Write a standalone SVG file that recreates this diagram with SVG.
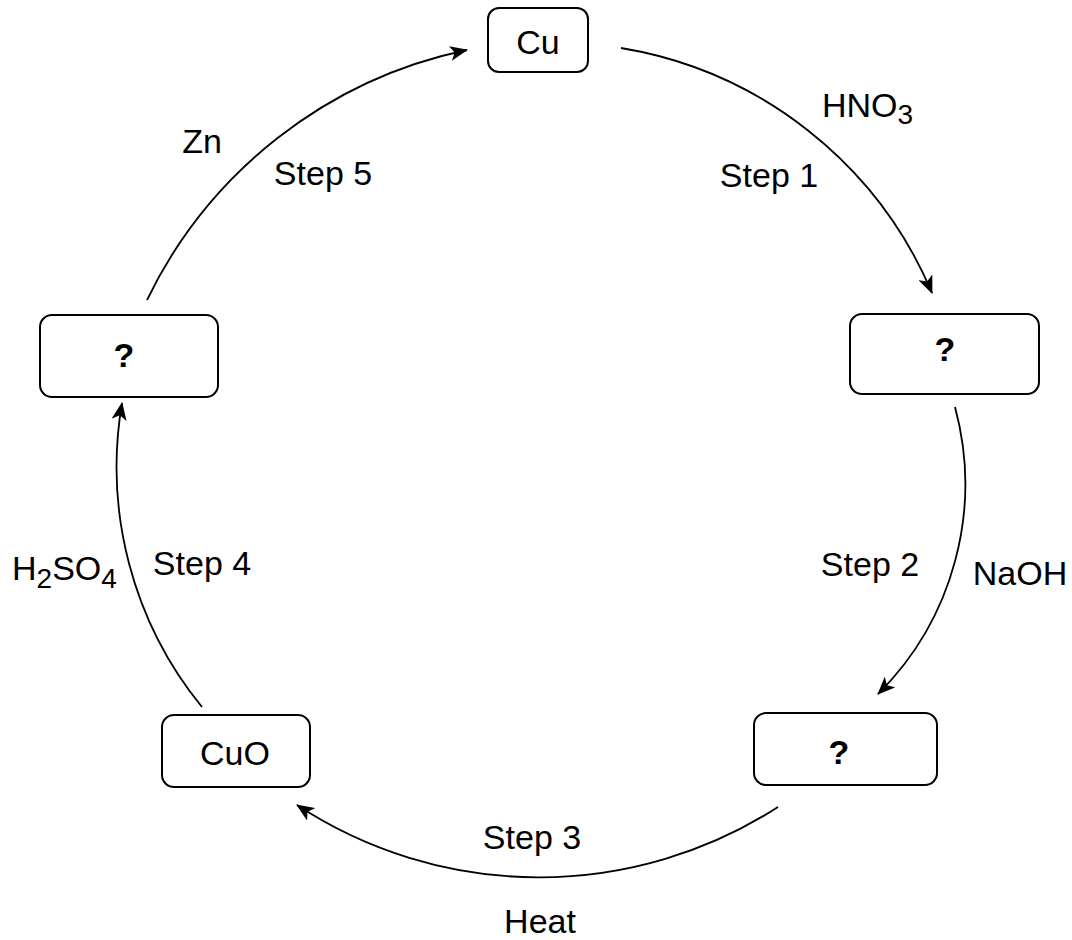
<svg xmlns="http://www.w3.org/2000/svg" width="1072" height="940" viewBox="0 0 1072 940">
  <style>
    .box { fill: #ffffff; stroke: #000000; stroke-width: 2; }
    .edge { fill: none; stroke: #000000; stroke-width: 1.8; marker-end: url(#arrow); }
    text { font-family: "Liberation Sans", Arial, sans-serif; font-size: 34px; fill: #000000; }
    .c { text-anchor: middle; }
    .q { font-weight: bold; }
    .sub { font-size: 28px; }
  </style>
  <defs>
    <marker id="arrow" viewBox="0 0 18 15" refX="17" refY="7.5" markerWidth="18" markerHeight="15" markerUnits="userSpaceOnUse" orient="auto">
      <path d="M0,0 L18,7.5 L0,15 L4.5,7.5 z" fill="#000000"/>
    </marker>
  </defs>
  <rect width="1072" height="940" fill="#ffffff"/>

  <g id="connectors">
    <path class="edge" d="M621,48 A410,410 0 0 1 932,293"/>
    <path class="edge" d="M955,407 A296,296 0 0 1 878,694"/>
    <path class="edge" d="M778,807 A441,441 0 0 1 297,805"/>
    <path class="edge" d="M202,707 A380,380 0 0 1 122,403"/>
    <path class="edge" d="M147,300 A460,460 0 0 1 467,50"/>
  </g>

  <g id="node-cu">
    <rect class="box" x="488" y="8" width="100" height="64" rx="11"/>
    <text class="c" x="538" y="54">Cu</text>
  </g>
  <g id="node-q1">
    <rect class="box" x="850" y="314" width="189" height="80" rx="12"/>
    <text class="c q" x="945" y="361">?</text>
  </g>
  <g id="node-q2">
    <rect class="box" x="754" y="713" width="183" height="72" rx="12"/>
    <text class="c q" x="839" y="764">?</text>
  </g>
  <g id="node-cuo">
    <rect class="box" x="162" y="715" width="148" height="72" rx="12"/>
    <text class="c" x="235" y="765">CuO</text>
  </g>
  <g id="node-q3">
    <rect class="box" x="40" y="315" width="178" height="82" rx="12"/>
    <text class="c q" x="124" y="367">?</text>
  </g>

  <g id="labels">
    <text x="822" y="117">HNO<tspan class="sub" dy="7">3</tspan></text>
    <text class="c" x="769" y="187">Step 1</text>
    <text class="c" x="870" y="576">Step 2</text>
    <text class="c" x="1020" y="585">NaOH</text>
    <text class="c" x="532" y="849">Step 3</text>
    <text class="c" x="540" y="933">Heat</text>
    <text class="c" x="202" y="575">Step 4</text>
    <text x="12" y="580">H<tspan class="sub" dy="8">2</tspan><tspan dy="-8">SO</tspan><tspan class="sub" dy="8">4</tspan></text>
    <text class="c" x="202" y="153">Zn</text>
    <text class="c" x="323" y="185">Step 5</text>
  </g>
</svg>
